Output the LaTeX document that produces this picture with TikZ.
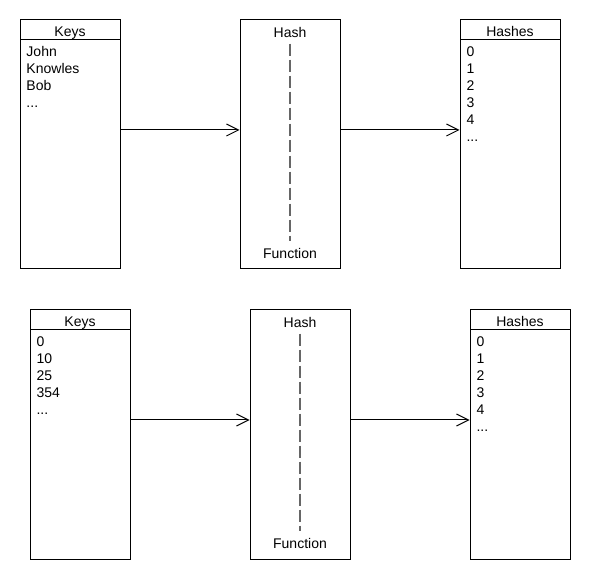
\documentclass[tikz,border=0pt]{standalone}
\usepackage{fontspec}
\setmainfont{Liberation Sans}
\usetikzlibrary{arrows.meta,positioning}

\begin{document}
\begin{tikzpicture}[x=1pt, y=-1pt, line width=1pt,
  box/.style={draw, minimum width=100pt, minimum height=249pt, inner sep=0pt},
  hdr/.style={draw, minimum width=100pt, minimum height=20pt, inner sep=0pt,
              text height=14pt, text depth=0pt,
              anchor=north, font=\fontsize{14}{17}\selectfont},
  lst/.style={align=left, anchor=north west, inner sep=0pt,
              font=\fontsize{14}{17}\selectfont},
  ttl/.style={inner xsep=0pt, inner ysep=6pt, font=\fontsize{14}{17}\selectfont},
  fn/.style={draw=black!60, line width=1.2pt, dash pattern=on 12pt off 4pt},
  arr/.style={-{Straight Barb[length=12pt,width=12pt]}}
]
\useasboundingbox (0,0) rectangle (590,580);
% pixel grid of the reference, y running down; the second row is the first
% one moved by (10,290)

% strings -> hashes
\node[box] (keys) at (70,144.5) {};
\node[hdr] (keysH) at (keys.north) {Keys};
\node[lst] (keysL) at (26,46) {John\\Knowles\\Bob\\...};

\node[box] (hash) at (290,144.5) {};
\node[ttl] (hashT) at (290,32) {Hash};
\node[ttl] (hashB) at (290,253) {Function};
\draw[fn] (hashT.south) -- (hashB.north);

\node[box] (out) at (510,144.5) {};
\node[hdr] (outH) at (out.north) {Hashes};
\node[lst] (outL) at (466,46) {0\\1\\2\\3\\4\\...};

\draw[arr] ([yshift=14.5pt]keys.east) -- ([yshift=14.5pt]hash.west);
\draw[arr] ([yshift=14.5pt]hash.east) -- ([yshift=14.5pt]out.west);

% numbers -> hashes
\begin{scope}[shift={(10,290)}]
\node[box] (keys2) at (70,144.5) {};
\node[hdr] (keys2H) at (keys2.north) {Keys};
\node[lst] (keys2L) at (26,46) {0\\10\\25\\354\\...};

\node[box] (hash2) at (290,144.5) {};
\node[ttl] (hash2T) at (290,32) {Hash};
\node[ttl] (hash2B) at (290,253) {Function};
\draw[fn] (hash2T.south) -- (hash2B.north);

\node[box] (out2) at (510,144.5) {};
\node[hdr] (out2H) at (out2.north) {Hashes};
\node[lst] (out2L) at (466,46) {0\\1\\2\\3\\4\\...};

\draw[arr] ([yshift=14.5pt]keys2.east) -- ([yshift=14.5pt]hash2.west);
\draw[arr] ([yshift=14.5pt]hash2.east) -- ([yshift=14.5pt]out2.west);
\end{scope}
\end{tikzpicture}
\end{document}
